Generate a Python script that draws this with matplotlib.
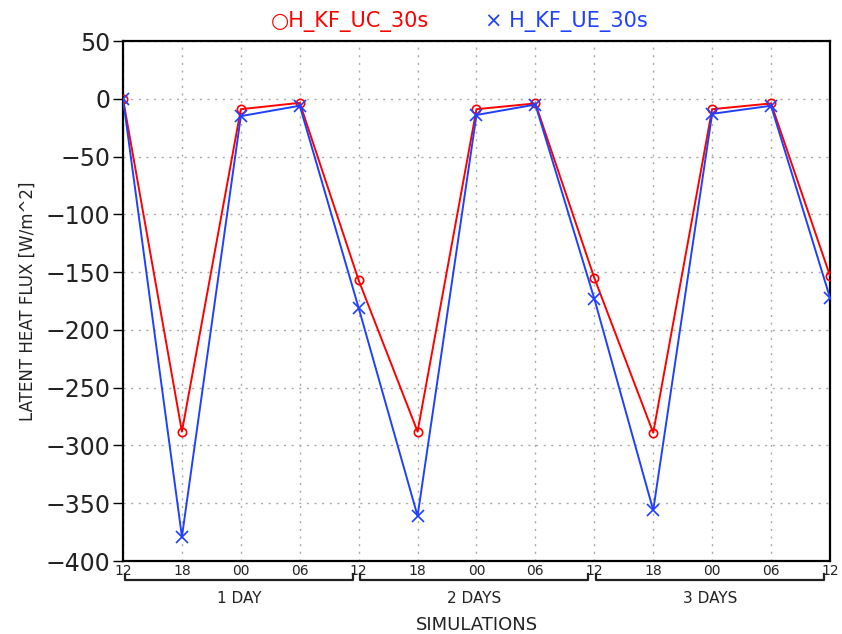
import numpy as np
import matplotlib
matplotlib.use('Agg')
import matplotlib.pyplot as plt

hours = ['12', '18', '00', '06', '12', '18', '00', '06', '12', '18', '00', '06', '12']
uc_30s = [0, -288, -9, -3.5, -157, -288, -9, -4, -155, -289, -9, -4, -153]
ue_30s = [0, -379, -15, -6, -181, -361, -14, -5, -173, -356, -13, -6, -172]
days = ['1 DAY', '2 DAYS', '3 DAYS']

fig = plt.figure(figsize=(8.42, 6.34), dpi=100)
ax = fig.add_axes([0.1461, 0.1151, 0.8396, 0.8202])

x = np.arange(len(hours))
ax.plot(x, uc_30s, color='#ff0000', lw=1.4, marker='o', ms=6,
        mfc='none', mec='#ff0000', mew=1.2, zorder=3)
ax.plot(x, ue_30s, color='#2040ff', lw=1.4, marker='x', ms=9,
        mew=1.2, zorder=3)

ax.set_xlim(0, 12)
ax.set_ylim(-400, 50)
ax.set_yticks(np.arange(-400, 51, 50))
ax.set_yticklabels([str(v) if v >= 0 else '\u2212' + str(-v) for v in range(-400, 51, 50)],
                   fontsize=17, color='#222222')
ax.set_xticks(x)
ax.set_xticklabels(hours, fontsize=10, color='#222222')
ax.tick_params(axis='x', length=0, pad=2)
ax.tick_params(axis='y', length=7, width=1, pad=2)
ax.grid(True, color='#aaaaaa', ls=(0, (1.5, 4)), lw=1)
for s in ax.spines.values():
    s.set_linewidth(1.6)

ax.set_ylabel('LATENT HEAT FLUX [W/m^2]', fontsize=12, color='#222222', labelpad=6)

# day brackets under the axis
trans = ax.get_xaxis_transform()
for i, d in enumerate(days):
    x0 = i * 4 + 0.03
    x1 = i * 4 + 3.9
    ax.plot([x0, x0, x1, x1], [-0.025, -0.036, -0.036, -0.025], color='#222222',
            lw=1.6, transform=trans, clip_on=False)
    ax.text((x0 + x1) / 2, -0.058, d, transform=trans, ha='center', va='top',
            fontsize=11, color='#222222')
ax.text(0.5, -0.106, 'SIMULATIONS', transform=ax.transAxes, ha='center', va='top',
        fontsize=13, color='#222222')

# legend at top
fig.text(0.322, 0.966, '\u25cbH_KF_UC_30s', color='#ff0000', fontsize=15, ha='left', va='center')
fig.text(0.576, 0.966, '\u00d7 H_KF_UE_30s', color='#2040ff', fontsize=15, ha='left', va='center')

fig.savefig('out.png', dpi=100)
